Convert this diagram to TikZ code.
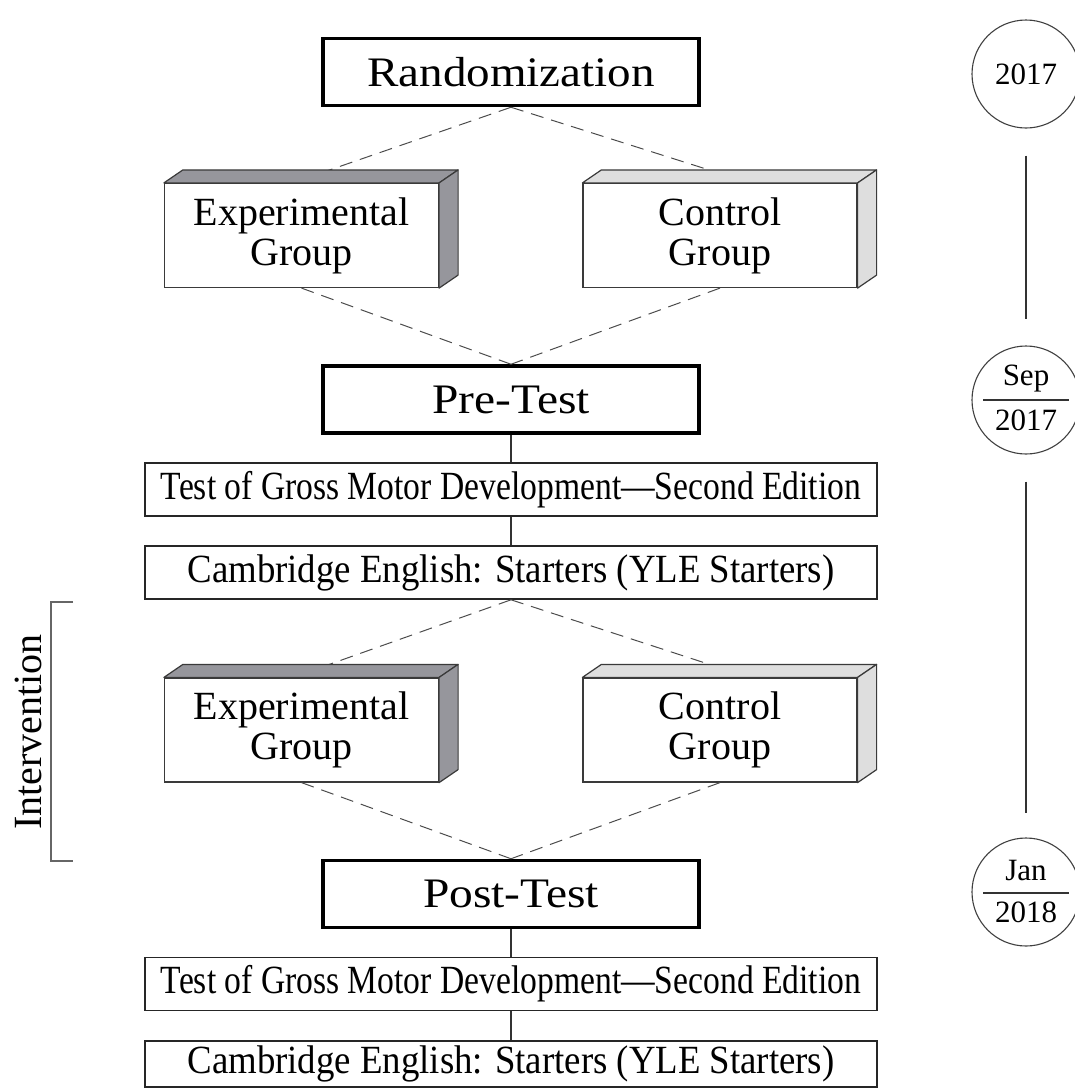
\documentclass[tikz,border=0pt]{standalone}
\usepackage{fontspec}
\setmainfont{Liberation Serif}
\usepackage{graphicx}
\usetikzlibrary{calc}
\definecolor{darkside}{HTML}{96969C}
\definecolor{lightside}{HTML}{DEDEDE}
\definecolor{edgecol}{HTML}{3A3A3A}
\newcommand{\condtext}[2]{\scalebox{#1}[1]{#2}}
\newcommand{\boxfaces}[2]{%
  \draw[draw=edgecol, line width=1.2pt, fill=#2, line join=round] (#1.north west) -- ++(19,-13) -- ($(#1.north east)+(19,-13)$) -- (#1.north east) -- cycle;
  \draw[draw=edgecol, line width=1.2pt, fill=#2, line join=round] (#1.north east) -- ++(19,-13) -- ($(#1.south east)+(19,-13)$) -- (#1.south east) -- cycle;}
\begin{document}
\begin{tikzpicture}[x=1pt,y=-1pt,
  mainbox/.style={draw=black, line width=3.5pt, fill=white, minimum width=376pt, minimum height=67pt, inner sep=0pt, font=\fontsize{42}{48}\selectfont},
  testbox/.style={draw=black!85, line width=1.6pt, fill=white, minimum width=732pt, minimum height=53pt, inner sep=0pt, font=\fontsize{40}{44}\selectfont},
  grp/.style={draw=edgecol, line width=1.2pt, fill=white, minimum width=274pt, minimum height=104pt, inner sep=0pt, align=center, font=\fontsize{40}{40}\selectfont},
  conn/.style={draw=black!80, line width=1.4pt},
  dashconn/.style={draw=black!70, line width=1pt, dash pattern=on 13pt off 8pt},
  circ/.style={circle, draw=black!75, line width=1.1pt, minimum size=108pt, inner sep=0pt, font=\fontsize{31}{36}\selectfont},
  txt/.style={inner sep=0pt, font=\fontsize{31}{36}\selectfont},
  tl/.style={draw=black!80, line width=1.2pt},
  brk/.style={draw=black!60, line width=1.2pt},
]
\useasboundingbox (0,0) rectangle (1075,1090);

% ---- main boxes
\node[mainbox] (rand) at (511,72) {\condtext{1.12}{Randomization}};
\node[mainbox] (pre) at (511,399.5) {\condtext{1.13}{Pre-Test}};
\node[mainbox] (post) at (511,894) {\condtext{1.13}{Post-Test}};

% ---- test boxes
\node[testbox] (t1) at (511,489.5) {\condtext{0.84}{Test of Gross Motor Development---Second Edition}};
\node[testbox] (t2) at (511,572.5) {\condtext{0.92}{Cambridge English: Starters (YLE Starters)}};
\node[testbox] (t3) at (511,984) {\condtext{0.84}{Test of Gross Motor Development---Second Edition}};
\node[testbox, minimum height=46pt] (t4) at (511,1064) {\condtext{0.92}{Cambridge English: Starters (YLE Starters)}};

% ---- group boxes (front faces)
\node[grp] (e1) at (301.5,235.5) {Experimental\\Group};
\node[grp] (c1) at (720,235.5) {Control\\Group};
\node[grp] (e2) at (301.5,730) {Experimental\\Group};
\node[grp] (c2) at (720,730) {Control\\Group};

% ---- connectors
\draw[dashconn] (rand.south) -- ($(e1.north)+(9.5,-6.5)$);
\draw[dashconn] (rand.south) -- ($(c1.north)+(9.5,-6.5)$);
\draw[dashconn] (e1.south) -- (pre.north);
\draw[dashconn] (c1.south) -- (pre.north);
\draw[dashconn] (t2.south) -- ($(e2.north)+(9.5,-6.5)$);
\draw[dashconn] (t2.south) -- ($(c2.north)+(9.5,-6.5)$);
\draw[dashconn] (e2.south) -- (post.north);
\draw[dashconn] (c2.south) -- (post.north);
\draw[conn] (pre.south) -- (t1.north);
\draw[conn] (t1.south) -- (t2.north);
\draw[conn] (post.south) -- (t3.north);
\draw[conn] (t3.south) -- (t4.north);

% ---- 3D faces
\boxfaces{e1}{darkside}
\boxfaces{c1}{lightside}
\boxfaces{e2}{darkside}
\boxfaces{c2}{lightside}

% ---- timeline
\node[circ] (y1) at (1026,74) {2017};
\node[circ] (y2) at (1026,400) {};
\node[circ] (y3) at (1026,892) {};
\node[txt, anchor=base] (y2a) at (1026,385) {Sep};
\node[txt, anchor=base] (y2b) at (1026,430) {2017};
\node[txt, anchor=base] (y3a) at (1026,880) {Jan};
\node[txt, anchor=base] (y3b) at (1026,922) {2018};
\draw[tl] (983,400) -- (1069,400);
\draw[tl] (983,893) -- (1069,893);
\draw[tl, shorten <=27pt, shorten >=26pt] (y1.south) -- (y2.north);
\draw[tl, shorten <=27pt, shorten >=24pt] (y2.south) -- (y3.north);

% ---- intervention bracket
\coordinate (bt) at (73,602);
\coordinate (bb) at (73,861);
\draw[brk] (bt) -- (51,602) -- (51,861) -- (bb);
\node[rotate=90, inner sep=0pt, font=\fontsize{40}{44}\selectfont] (iv) at (28,732) {Intervention};
\end{tikzpicture}
\end{document}
